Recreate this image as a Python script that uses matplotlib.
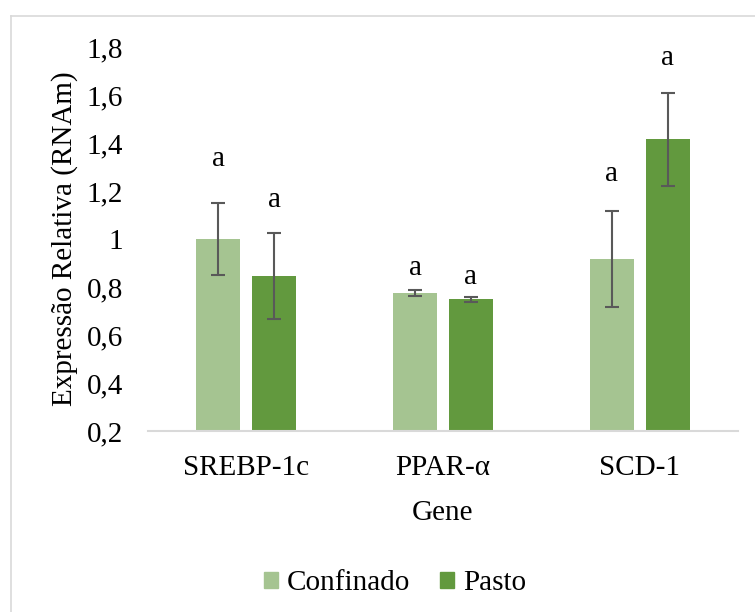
import numpy as np
import matplotlib.pyplot as plt
from matplotlib.lines import Line2D
from matplotlib.patches import Patch

plt.rcParams['font.family'] = ['Liberation Serif', 'DejaVu Serif']

genes = ['SREBP-1c', 'PPAR-α', 'SCD-1']
confinado = [1.00, 0.775, 0.915]
confinado_err = [0.152, 0.012, 0.200]
pasto = [0.845, 0.748, 1.415]
pasto_err = [0.180, 0.012, 0.195]
letters_conf = ['a', 'a', 'a']
letters_pasto = ['a', 'a', 'a']

c_conf = '#A5C491'
c_pasto = '#62993E'
err_col = '#595959'
fs = 21

fig = plt.figure(figsize=(7.55, 6.12), dpi=100)
ax = fig.add_axes([0.196, 0.2958, 0.7815, 0.6274])

x = np.arange(len(genes))
w = 0.223
gap = 0.061
off = (w + gap) / 2

ax.bar(x - off, confinado, w, color=c_conf, zorder=2)
ax.bar(x + off, pasto, w, color=c_pasto, zorder=2)
ekw = dict(fmt='none', ecolor=err_col, elinewidth=1.5, capsize=5, capthick=1.5, zorder=3)
ax.errorbar(x - off, confinado, yerr=confinado_err, **ekw)
ax.errorbar(x + off, pasto, yerr=pasto_err, **ekw)

# letter offsets above the error bar (points)
conf_pad = [31, 16, 27]
pasto_pad = [24, 14, 25]
for i in range(len(genes)):
    ax.annotate(letters_conf[i], (x[i] - off, confinado[i] + confinado_err[i]),
                xytext=(0, conf_pad[i]), textcoords='offset points',
                ha='center', va='center', fontsize=fs)
    ax.annotate(letters_pasto[i], (x[i] + off, pasto[i] + pasto_err[i]),
                xytext=(0, pasto_pad[i]), textcoords='offset points',
                ha='center', va='center', fontsize=fs)

ax.set_xlim(-0.5, 2.5)
ax.set_ylim(0.2, 1.8)
ax.set_yticks(np.arange(0.2, 1.81, 0.2))
ax.set_yticklabels(['0,2', '0,4', '0,6', '0,8', '1', '1,2', '1,4', '1,6', '1,8'])
ax.set_xticks(x)
ax.set_xticklabels(genes)
ax.tick_params(length=0, labelsize=fs)
ax.tick_params(axis='x', pad=17)
ax.tick_params(axis='y', pad=18)
for s in ['top', 'right', 'left']:
    ax.spines[s].set_visible(False)
ax.spines['bottom'].set_color('#D9D9D9')
ax.spines['bottom'].set_linewidth(1.5)

ax.set_xlabel('Gene', fontsize=fs, labelpad=14)
ax.set_ylabel('Expressão Relativa (RNAm)', fontsize=fs, labelpad=6)

handles = [Patch(color=c_conf, label='Confinado'), Patch(color=c_pasto, label='Pasto')]
fig.legend(handles=handles, loc='center', bbox_to_anchor=(0.523, 0.047), ncol=2,
           frameon=False, fontsize=fs, handlelength=0.5, handleheight=0.5,
           handletextpad=0.3, columnspacing=1.0)

# chart area border
fig.add_artist(Line2D([11/755, 11/755], [0, 1 - 16/612], transform=fig.transFigure,
                      color='#D9D9D9', lw=1.2))
fig.add_artist(Line2D([11/755, 1], [1 - 16/612, 1 - 16/612], transform=fig.transFigure,
                      color='#D9D9D9', lw=1.2))

fig.savefig('out.png', dpi=100)
